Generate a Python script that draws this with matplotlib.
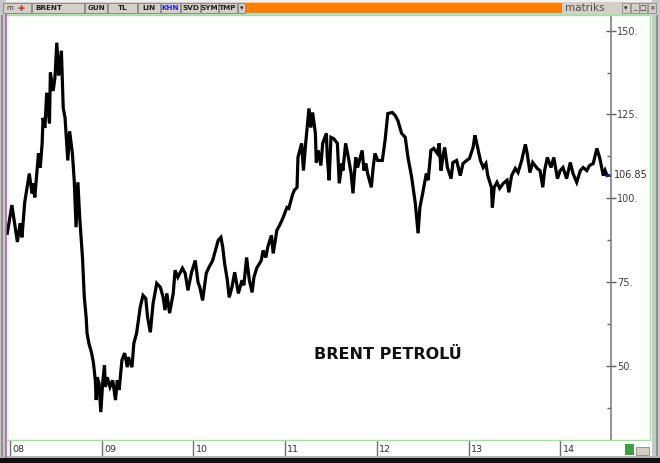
import matplotlib
matplotlib.use("Agg")
import matplotlib.pyplot as plt
from matplotlib.patches import Rectangle
from matplotlib.lines import Line2D
import matplotlib.transforms as mtransforms
import numpy as np

# ---------------- data (decimal year, price) ----------------
years = [2007.97, 2008.02, 2008.08, 2008.11, 2008.13, 2008.16, 2008.21, 2008.24, 2008.25, 2008.27,
         2008.31, 2008.33, 2008.35, 2008.36, 2008.38, 2008.40, 2008.43, 2008.44, 2008.47, 2008.49,
         2008.51, 2008.53, 2008.56, 2008.58, 2008.60, 2008.63, 2008.65, 2008.68, 2008.70, 2008.72,
         2008.74, 2008.76, 2008.79, 2008.81, 2008.83, 2008.84, 2008.86, 2008.89, 2008.91, 2008.93,
         2008.94, 2008.95, 2008.97, 2008.99, 2009.01, 2009.03, 2009.04, 2009.06, 2009.09, 2009.12,
         2009.15, 2009.17, 2009.19, 2009.22, 2009.25, 2009.28, 2009.29, 2009.33, 2009.35, 2009.38,
         2009.42, 2009.45, 2009.48, 2009.50, 2009.53, 2009.56, 2009.60, 2009.64, 2009.67, 2009.69,
         2009.71, 2009.74, 2009.78, 2009.80, 2009.83, 2009.88, 2009.91, 2009.94, 2009.98, 2010.02,
         2010.05, 2010.07, 2010.10, 2010.14, 2010.17, 2010.21, 2010.24, 2010.27, 2010.30, 2010.32,
         2010.34, 2010.37, 2010.39, 2010.42, 2010.45, 2010.49, 2010.53, 2010.55, 2010.58, 2010.61,
         2010.64, 2010.66, 2010.69, 2010.74, 2010.76, 2010.79, 2010.81, 2010.85, 2010.87, 2010.91,
         2010.94, 2010.98, 2011.02, 2011.04, 2011.08, 2011.10, 2011.13, 2011.14, 2011.18, 2011.20,
         2011.22, 2011.24, 2011.26, 2011.28, 2011.30, 2011.33, 2011.34, 2011.36, 2011.39, 2011.41,
         2011.45, 2011.46, 2011.48, 2011.50, 2011.53, 2011.57, 2011.59, 2011.62, 2011.63, 2011.66,
         2011.69, 2011.72, 2011.74, 2011.77, 2011.79, 2011.84, 2011.86, 2011.88, 2011.90, 2011.94,
         2011.96, 2011.98, 2012.01, 2012.06, 2012.09, 2012.12, 2012.17, 2012.20, 2012.23, 2012.27,
         2012.31, 2012.34, 2012.38, 2012.42, 2012.45, 2012.47, 2012.50, 2012.54, 2012.56, 2012.59,
         2012.62, 2012.66, 2012.68, 2012.70, 2012.72, 2012.74, 2012.77, 2012.81, 2012.83, 2012.87,
         2012.91, 2012.94, 2012.98, 2013.01, 2013.05, 2013.07, 2013.09, 2013.13, 2013.16, 2013.19,
         2013.21, 2013.25, 2013.26, 2013.28, 2013.31, 2013.34, 2013.38, 2013.42, 2013.44, 2013.47,
         2013.51, 2013.54, 2013.58, 2013.62, 2013.64, 2013.67, 2013.70, 2013.75, 2013.78, 2013.81,
         2013.83, 2013.86, 2013.90, 2013.93, 2013.97, 2014.00, 2014.03, 2014.07, 2014.11, 2014.14,
         2014.18, 2014.22, 2014.25, 2014.29, 2014.32, 2014.36, 2014.40, 2014.43, 2014.47, 2014.49,
         2014.51]
prices = [89.6, 98.0, 87.0, 92.6, 88.4, 98.8, 107.4, 101.5, 104.5, 100.3,
          113.4, 109.2, 116.4, 124.0, 121.0, 131.5, 122.3, 137.5, 132.0, 136.0,
          146.4, 136.6, 144.0, 127.0, 124.0, 111.3, 120.0, 113.4, 105.4, 91.4,
          104.8, 94.3, 82.4, 70.5, 64.6, 59.8, 56.8, 53.9, 50.9, 45.8,
          39.9, 46.7, 44.9, 36.3, 44.9, 50.3, 43.8, 46.7, 43.8, 45.8,
          39.9, 45.8, 42.9, 51.8, 53.9, 49.7, 52.7, 49.7, 56.8, 59.8,
          67.6, 71.1, 70.2, 64.6, 60.1, 68.7, 74.7, 73.5, 70.5, 66.7,
          71.7, 65.8, 71.7, 78.6, 76.5, 79.2, 77.7, 72.6, 78.0, 81.5,
          75.0, 73.5, 69.6, 77.7, 79.5, 81.5, 84.5, 87.5, 88.4, 85.4,
          80.6, 75.6, 70.5, 73.5, 78.0, 71.7, 75.6, 74.1, 82.4, 75.6,
          72.0, 76.5, 79.2, 81.5, 84.5, 82.4, 85.4, 89.0, 83.6, 90.5,
          92.0, 94.4, 97.3, 97.0, 101.0, 102.4, 103.3, 112.2, 116.4, 108.3,
          115.2, 121.1, 126.8, 121.1, 125.6, 119.4, 110.7, 114.3, 109.8, 116.4,
          119.4, 112.2, 105.4, 118.2, 117.8, 116.4, 104.5, 110.4, 108.3, 116.4,
          112.2, 107.4, 101.5, 112.2, 109.2, 114.3, 108.3, 110.4, 107.4, 103.3,
          109.2, 113.4, 111.3, 111.3, 117.3, 125.3, 125.6, 124.7, 123.2, 119.4,
          118.2, 112.2, 106.3, 98.5, 89.6, 97.3, 101.5, 107.4, 105.4, 114.3,
          114.9, 113.4, 116.4, 108.3, 112.2, 115.2, 109.2, 105.9, 110.7, 111.3,
          106.8, 110.4, 111.3, 111.9, 115.2, 118.8, 116.4, 111.3, 109.2, 110.4,
          106.8, 103.3, 97.3, 103.3, 104.8, 103.0, 104.5, 105.4, 101.8, 106.8,
          108.9, 107.7, 111.3, 116.1, 113.4, 107.7, 110.7, 108.9, 108.3, 103.3,
          108.3, 112.2, 109.2, 112.2, 105.9, 108.3, 109.2, 105.9, 110.7, 107.4,
          104.8, 108.3, 109.2, 108.3, 109.8, 110.4, 114.9, 112.2, 106.8, 108.3,
          106.85]
last_value = 106.85
year_ticks = [2008, 2009, 2010, 2011, 2012, 2013, 2014]
year_labels = ["08", "09", "10", "11", "12", "13", "14"]
y_major = [50, 75, 100, 125, 150]
y_minor = [37.5, 62.5, 87.5, 112.5, 137.5]
title_text = "BRENT PETROLÜ"
toolbar_buttons = ["BRENT", "GUN", "TL", "LIN", "KHN", "SVD", "SYM", "TMP"]

# ---------------- layout ----------------
W, H = 660, 463
fig = plt.figure(figsize=(W / 100, H / 100), dpi=100)
fig.patch.set_facecolor("white")

def fx(x):
    return x / W

def fy(y):
    return 1 - y / H

def frect(x0, y0, x1, y1, **kw):
    fig.patches.append(Rectangle((fx(x0), fy(y1)), fx(x1) - fx(x0), fy(y0) - fy(y1),
                                 transform=fig.transFigure, **kw))

# window chrome
frect(0, 0, 660, 15, facecolor="#d4d0c8", edgecolor="none")
frect(0, 0, 660, 1.5, facecolor="#f0f0f0", edgecolor="none")
frect(0, 0, 6, 463, facecolor="#c8c8c8", edgecolor="none")
frect(1, 15, 3, 458, facecolor="#909090", edgecolor="none")
frect(652, 0, 660, 463, facecolor="#c8c8c8", edgecolor="none")
frect(656, 15, 658, 458, facecolor="#909090", edgecolor="none")
frect(0, 458, 660, 463, facecolor="#101010", edgecolor="none")
frect(0, 456.5, 660, 458, facecolor="#b0b0b0", edgecolor="none")

# toolbar buttons
btn_x = [(32, 84), (85, 107), (108, 137), (138, 160), (161, 180), (181, 200), (201, 218), (219, 237)]
frect(3, 3, 31, 13, facecolor="#d4d0c8", edgecolor="#808080", linewidth=0.6)
fig.text(fx(6), fy(8.3), "m", fontsize=5, color="#303030", va="center", ha="left")
fig.text(fx(18), fy(8.3), "✚", fontsize=6, color="#d03030", va="center", ha="left")
for (x0, x1), lab in zip(btn_x, toolbar_buttons):
    frect(x0, 3, x1, 13, facecolor="#d4d0c8", edgecolor="#808080", linewidth=0.6)
    col = "#2020ff" if lab == "KHN" else "#202020"
    if lab == "BRENT":
        fig.text(fx(x0 + 3), fy(8.3), lab, fontsize=5.2, color=col, va="center", ha="left",
                 fontweight="bold")
    else:
        fig.text(fx((x0 + x1) / 2), fy(8.3), lab, fontsize=5.2, color=col, va="center",
                 ha="center", fontweight="bold")
frect(238, 3, 245, 13, facecolor="#d4d0c8", edgecolor="#808080", linewidth=0.6)
fig.text(fx(241.5), fy(8.3), "▾", fontsize=5, color="#202020", va="center", ha="center")
frect(246, 3, 562, 13, facecolor="#ff8000", edgecolor="none")
fig.text(fx(565), fy(8.3), "matriks", fontsize=7.5, color="#505050", va="center", ha="left")
for i, s in enumerate(["▾", "_", "□", "×"]):
    frect(622 + i * 8.5, 3, 630 + i * 8.5, 13, facecolor="#d4d0c8", edgecolor="#808080",
          linewidth=0.5)
    fig.text(fx(626 + i * 8.5), fy(8.3), s, fontsize=5, color="#202020", va="center",
             ha="center")

# green frame + purple left line
fig.lines.append(Line2D([fx(6), fx(650), fx(650), fx(6)], [fy(14.5), fy(14.5), fy(440), fy(440)],
                        transform=fig.transFigure, color="#9be39b", linewidth=1.0))
fig.lines.append(Line2D([fx(5.5), fx(5.5)], [fy(14.5), fy(457)], transform=fig.transFigure,
                        color="#b060c0", linewidth=1.2))

# main axes
ax = fig.add_axes([fx(6), fy(440), fx(611) - fx(6), fy(14.5) - fy(440)])
ax.set_facecolor("none")
ax.plot(years, prices, color="black", linewidth=2.3, solid_joinstyle="miter")
ax.set_xlim(2007.956, 2014.554)
ax.set_ylim(28.0, 154.8)
for s in ["top", "left", "bottom"]:
    ax.spines[s].set_visible(False)
ax.spines["right"].set_color("#808080")
ax.spines["right"].set_linewidth(1.2)
ax.set_xticks([])
ax.yaxis.tick_right()
ax.set_yticks(y_major)
ax.set_yticklabels([f"{v}." for v in y_major])
ax.set_yticks(y_minor, minor=True)
ax.tick_params(axis="y", which="major", direction="inout", length=7, width=1, color="#606060",
               labelsize=7, labelcolor="#404040", pad=1)
ax.tick_params(axis="y", which="minor", direction="in", length=3, width=1, color="#606060")

trans = mtransforms.blended_transform_factory(ax.transAxes, ax.transData)
ax.plot([0.992, 1.0], [last_value, last_value], transform=trans, color="#1a1aa0",
        linewidth=2.2, clip_on=False, solid_capstyle="butt")
ax.text(1.005, last_value, f"{last_value:.2f}", transform=trans, fontsize=7, color="#303030",
        va="center", ha="left")

ax.text(2012.12, 53.6, title_text, fontsize=11.5, fontweight="bold", color="#101010",
        ha="center", va="center")

# x axis strip
ax2 = fig.add_axes([fx(6), fy(456), fx(611) - fx(6), fy(441) - fy(456)], sharex=ax)
ax2.set_facecolor("none")
ax2.set_ylim(0, 1)
for s in ax2.spines.values():
    s.set_visible(False)
ax2.tick_params(left=False, bottom=False, labelleft=False, labelbottom=False)
for yr, lab in zip(year_ticks, year_labels):
    ax2.axvline(yr, color="#707070", linewidth=1.0)
    ax2.text(yr + 0.025, 0.45, lab, fontsize=6.8, color="#303030", va="center", ha="left")

# small icon bottom right
frect(625, 444, 634, 455, facecolor="#3aa040", edgecolor="none")
frect(636, 447, 649, 455, facecolor="#d4d0c8", edgecolor="#707070", linewidth=0.5)

fig.savefig("out.png", dpi=100)
